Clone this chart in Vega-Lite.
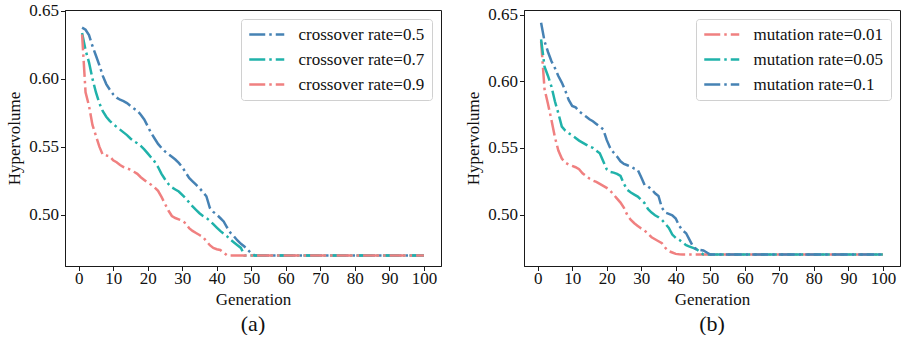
{
  "$schema": "https://vega.github.io/schema/vega-lite/v6.json",
  "background": "white",
  "padding": {"left": 5, "top": 1, "right": 2, "bottom": 0},
  "config": {
    "font": "Liberation Serif",
    "view": {"stroke": "#1a1a1a", "strokeWidth": 1},
    "axis": {
      "labelFont": "Liberation Serif", "labelFontSize": 17, "labelColor": "#111111",
      "titleFont": "Liberation Serif", "titleFontSize": 17, "titleFontWeight": "normal", "titleColor": "#111111",
      "tickColor": "#1a1a1a", "domainColor": "#1a1a1a", "grid": false, "tickSize": 4.5, "labelPadding": 0
    },
    "legend": {
      "symbolType": "M-1,0H3.83", "symbolSize": 210, "symbolStrokeWidth": 2.5, "symbolDash": [16, 4, 2.5, 4],
      "labelFont": "Liberation Serif", "labelFontSize": 17, "labelColor": "#111111", "labelOffset": 33.5,
      "rowPadding": 7, "padding": 7, "strokeColor": "#d0d0d0", "cornerRadius": 3, "fillColor": "white",
      "offset": 9, "labelLimit": 200
    },
    "title": {"font": "Liberation Serif", "fontSize": 22, "fontWeight": "normal", "color": "#111111"}
  },
  "datasets": {
    "a": [
      {"g": 1, "r05": 0.6375, "r07": 0.6335, "r09": 0.6325},
      {"g": 2, "r05": 0.6360, "r07": 0.6210, "r09": 0.5900},
      {"g": 3, "r05": 0.6320, "r07": 0.6120, "r09": 0.5800},
      {"g": 4, "r05": 0.6240, "r07": 0.6000, "r09": 0.5660},
      {"g": 5, "r05": 0.6170, "r07": 0.5900, "r09": 0.5580},
      {"g": 6, "r05": 0.6100, "r07": 0.5820, "r09": 0.5500},
      {"g": 7, "r05": 0.6020, "r07": 0.5760, "r09": 0.5440},
      {"g": 8, "r05": 0.5960, "r07": 0.5720, "r09": 0.5435},
      {"g": 9, "r05": 0.5920, "r07": 0.5690, "r09": 0.5430},
      {"g": 10, "r05": 0.5885, "r07": 0.5665, "r09": 0.5400},
      {"g": 11, "r05": 0.5860, "r07": 0.5645, "r09": 0.5385},
      {"g": 12, "r05": 0.5845, "r07": 0.5625, "r09": 0.5365},
      {"g": 13, "r05": 0.5835, "r07": 0.5605, "r09": 0.5350},
      {"g": 14, "r05": 0.5820, "r07": 0.5585, "r09": 0.5340},
      {"g": 15, "r05": 0.5800, "r07": 0.5560, "r09": 0.5330},
      {"g": 16, "r05": 0.5780, "r07": 0.5540, "r09": 0.5315},
      {"g": 17, "r05": 0.5765, "r07": 0.5525, "r09": 0.5300},
      {"g": 18, "r05": 0.5735, "r07": 0.5505, "r09": 0.5275},
      {"g": 19, "r05": 0.5700, "r07": 0.5480, "r09": 0.5255},
      {"g": 20, "r05": 0.5650, "r07": 0.5450, "r09": 0.5235},
      {"g": 21, "r05": 0.5600, "r07": 0.5420, "r09": 0.5220},
      {"g": 22, "r05": 0.5560, "r07": 0.5390, "r09": 0.5200},
      {"g": 23, "r05": 0.5520, "r07": 0.5350, "r09": 0.5175},
      {"g": 24, "r05": 0.5490, "r07": 0.5300, "r09": 0.5130},
      {"g": 25, "r05": 0.5465, "r07": 0.5260, "r09": 0.5080},
      {"g": 26, "r05": 0.5445, "r07": 0.5225, "r09": 0.5030},
      {"g": 27, "r05": 0.5425, "r07": 0.5200, "r09": 0.4990},
      {"g": 28, "r05": 0.5405, "r07": 0.5185, "r09": 0.4975},
      {"g": 29, "r05": 0.5380, "r07": 0.5170, "r09": 0.4965},
      {"g": 30, "r05": 0.5350, "r07": 0.5145, "r09": 0.4955},
      {"g": 31, "r05": 0.5310, "r07": 0.5120, "r09": 0.4935},
      {"g": 32, "r05": 0.5270, "r07": 0.5090, "r09": 0.4900},
      {"g": 33, "r05": 0.5245, "r07": 0.5060, "r09": 0.4880},
      {"g": 34, "r05": 0.5220, "r07": 0.5035, "r09": 0.4865},
      {"g": 35, "r05": 0.5195, "r07": 0.5010, "r09": 0.4850},
      {"g": 36, "r05": 0.5165, "r07": 0.4990, "r09": 0.4835},
      {"g": 37, "r05": 0.5135, "r07": 0.4975, "r09": 0.4805},
      {"g": 38, "r05": 0.5050, "r07": 0.4955, "r09": 0.4775},
      {"g": 39, "r05": 0.5020, "r07": 0.4930, "r09": 0.4755},
      {"g": 40, "r05": 0.5000, "r07": 0.4905, "r09": 0.4745},
      {"g": 41, "r05": 0.4975, "r07": 0.4880, "r09": 0.4740},
      {"g": 42, "r05": 0.4950, "r07": 0.4860, "r09": 0.4720},
      {"g": 43, "r05": 0.4905, "r07": 0.4840, "r09": 0.4700},
      {"g": 44, "r05": 0.4865, "r07": 0.4815, "r09": 0.4700},
      {"g": 45, "r05": 0.4840, "r07": 0.4795, "r09": 0.4700},
      {"g": 46, "r05": 0.4810, "r07": 0.4775, "r09": 0.4700},
      {"g": 47, "r05": 0.4785, "r07": 0.4755, "r09": 0.4700},
      {"g": 48, "r05": 0.4765, "r07": 0.4700, "r09": 0.4700},
      {"g": 49, "r05": 0.4740, "r07": 0.4700, "r09": 0.4700},
      {"g": 50, "r05": 0.4715, "r07": 0.4700, "r09": 0.4700},
      {"g": 51, "r05": 0.4700, "r07": 0.4700, "r09": 0.4700},
      {"g": 100, "r05": 0.4700, "r07": 0.4700, "r09": 0.4700}
    ],
    "b": [
      {"g": 1, "m001": 0.6300, "m005": 0.6315, "m01": 0.6440},
      {"g": 2, "m001": 0.5940, "m005": 0.6110, "m01": 0.6300},
      {"g": 3, "m001": 0.5830, "m005": 0.6040, "m01": 0.6220},
      {"g": 4, "m001": 0.5710, "m005": 0.5960, "m01": 0.6150},
      {"g": 5, "m001": 0.5580, "m005": 0.5850, "m01": 0.6100},
      {"g": 6, "m001": 0.5480, "m005": 0.5760, "m01": 0.6040},
      {"g": 7, "m001": 0.5420, "m005": 0.5660, "m01": 0.5990},
      {"g": 8, "m001": 0.5390, "m005": 0.5630, "m01": 0.5930},
      {"g": 9, "m001": 0.5375, "m005": 0.5610, "m01": 0.5860},
      {"g": 10, "m001": 0.5365, "m005": 0.5595, "m01": 0.5815},
      {"g": 11, "m001": 0.5355, "m005": 0.5575, "m01": 0.5805},
      {"g": 12, "m001": 0.5340, "m005": 0.5555, "m01": 0.5775},
      {"g": 13, "m001": 0.5310, "m005": 0.5540, "m01": 0.5755},
      {"g": 14, "m001": 0.5290, "m005": 0.5525, "m01": 0.5735},
      {"g": 15, "m001": 0.5270, "m005": 0.5510, "m01": 0.5715},
      {"g": 16, "m001": 0.5255, "m005": 0.5500, "m01": 0.5700},
      {"g": 17, "m001": 0.5245, "m005": 0.5480, "m01": 0.5680},
      {"g": 18, "m001": 0.5230, "m005": 0.5460, "m01": 0.5660},
      {"g": 19, "m001": 0.5215, "m005": 0.5400, "m01": 0.5640},
      {"g": 20, "m001": 0.5200, "m005": 0.5340, "m01": 0.5560},
      {"g": 21, "m001": 0.5180, "m005": 0.5320, "m01": 0.5500},
      {"g": 22, "m001": 0.5150, "m005": 0.5315, "m01": 0.5465},
      {"g": 23, "m001": 0.5120, "m005": 0.5305, "m01": 0.5435},
      {"g": 24, "m001": 0.5090, "m005": 0.5290, "m01": 0.5400},
      {"g": 25, "m001": 0.5050, "m005": 0.5230, "m01": 0.5380},
      {"g": 26, "m001": 0.4995, "m005": 0.5185, "m01": 0.5370},
      {"g": 27, "m001": 0.4960, "m005": 0.5165, "m01": 0.5360},
      {"g": 28, "m001": 0.4935, "m005": 0.5150, "m01": 0.5345},
      {"g": 29, "m001": 0.4915, "m005": 0.5135, "m01": 0.5335},
      {"g": 30, "m001": 0.4895, "m005": 0.5110, "m01": 0.5280},
      {"g": 31, "m001": 0.4880, "m005": 0.5085, "m01": 0.5220},
      {"g": 32, "m001": 0.4855, "m005": 0.5040, "m01": 0.5210},
      {"g": 33, "m001": 0.4830, "m005": 0.5015, "m01": 0.5190},
      {"g": 34, "m001": 0.4815, "m005": 0.4995, "m01": 0.5160},
      {"g": 35, "m001": 0.4800, "m005": 0.4980, "m01": 0.5140},
      {"g": 36, "m001": 0.4785, "m005": 0.4960, "m01": 0.5050},
      {"g": 37, "m001": 0.4750, "m005": 0.4930, "m01": 0.5015},
      {"g": 38, "m001": 0.4725, "m005": 0.4900, "m01": 0.5005},
      {"g": 39, "m001": 0.4715, "m005": 0.4850, "m01": 0.4995},
      {"g": 40, "m001": 0.4705, "m005": 0.4825, "m01": 0.4970},
      {"g": 41, "m001": 0.4702, "m005": 0.4810, "m01": 0.4915},
      {"g": 42, "m001": 0.4700, "m005": 0.4790, "m01": 0.4880},
      {"g": 43, "m001": 0.4700, "m005": 0.4770, "m01": 0.4860},
      {"g": 44, "m001": 0.4700, "m005": 0.4760, "m01": 0.4810},
      {"g": 45, "m001": 0.4700, "m005": 0.4750, "m01": 0.4760},
      {"g": 46, "m001": 0.4700, "m005": 0.4740, "m01": 0.4740},
      {"g": 47, "m001": 0.4700, "m005": 0.4720, "m01": 0.4735},
      {"g": 48, "m001": 0.4700, "m005": 0.4700, "m01": 0.4730},
      {"g": 49, "m001": 0.4700, "m005": 0.4700, "m01": 0.4715},
      {"g": 50, "m001": 0.4700, "m005": 0.4700, "m01": 0.4700},
      {"g": 51, "m001": 0.4700, "m005": 0.4700, "m01": 0.4700},
      {"g": 100, "m001": 0.4700, "m005": 0.4700, "m01": 0.4700}
    ]
  },
  "bounds": "flush",
  "spacing": 83,
  "resolve": {"scale": {"color": "independent"}, "legend": {"color": "independent"}},
  "hconcat": [
    {
      "width": 376, "height": 256,
      "data": {"name": "a"},
      "transform": [{"fold": ["r05", "r07", "r09"], "as": ["series", "hv"]}],
      "title": {"text": "(a)", "orient": "bottom", "anchor": "middle", "offset": 6},
      "mark": {"type": "line", "strokeWidth": 2.5, "strokeDash": [16, 4, 2.5, 4], "strokeCap": "butt"},
      "encoding": {
        "x": {"field": "g", "type": "quantitative",
              "scale": {"domain": [-3.95, 104.95], "nice": false, "zero": false},
              "axis": {"title": "Generation", "values": [0, 10, 20, 30, 40, 50, 60, 70, 80, 90, 100], "titlePadding": 5}},
        "y": {"field": "hv", "type": "quantitative",
              "scale": {"domain": [0.4622, 0.6505], "nice": false, "zero": false},
              "axis": {"title": "Hypervolume", "values": [0.5, 0.55, 0.6, 0.65], "format": ".2f", "labelPadding": 2, "titlePadding": 5}},
        "color": {"field": "series", "type": "nominal",
                  "scale": {"domain": ["r05", "r07", "r09"], "range": ["#4682b4", "#20b2aa", "#f08080"]},
                  "legend": {"title": null, "orient": "top-right",
                             "labelExpr": "{'r05': 'crossover rate=0.5', 'r07': 'crossover rate=0.7', 'r09': 'crossover rate=0.9'}[datum.label]"}}
      }
    },
    {
      "width": 376, "height": 256,
      "data": {"name": "b"},
      "transform": [{"fold": ["m001", "m005", "m01"], "as": ["series", "hv"]}],
      "title": {"text": "(b)", "orient": "bottom", "anchor": "middle", "offset": 6},
      "mark": {"type": "line", "strokeWidth": 2.5, "strokeDash": [16, 4, 2.5, 4], "strokeCap": "butt"},
      "encoding": {
        "x": {"field": "g", "type": "quantitative",
              "scale": {"domain": [-3.95, 104.95], "nice": false, "zero": false},
              "axis": {"title": "Generation", "values": [0, 10, 20, 30, 40, 50, 60, 70, 80, 90, 100], "titlePadding": 5}},
        "y": {"field": "hv", "type": "quantitative",
              "scale": {"domain": [0.4614, 0.6535], "nice": false, "zero": false},
              "axis": {"title": "Hypervolume", "values": [0.5, 0.55, 0.6, 0.65], "format": ".2f", "labelPadding": 2, "titlePadding": 5}},
        "color": {"field": "series", "type": "nominal",
                  "scale": {"domain": ["m001", "m005", "m01"], "range": ["#f08080", "#20b2aa", "#4682b4"]},
                  "legend": {"title": null, "orient": "top-right",
                             "labelExpr": "{'m001': 'mutation rate=0.01', 'm005': 'mutation rate=0.05', 'm01': 'mutation rate=0.1'}[datum.label]"}}
      }
    }
  ]
}
